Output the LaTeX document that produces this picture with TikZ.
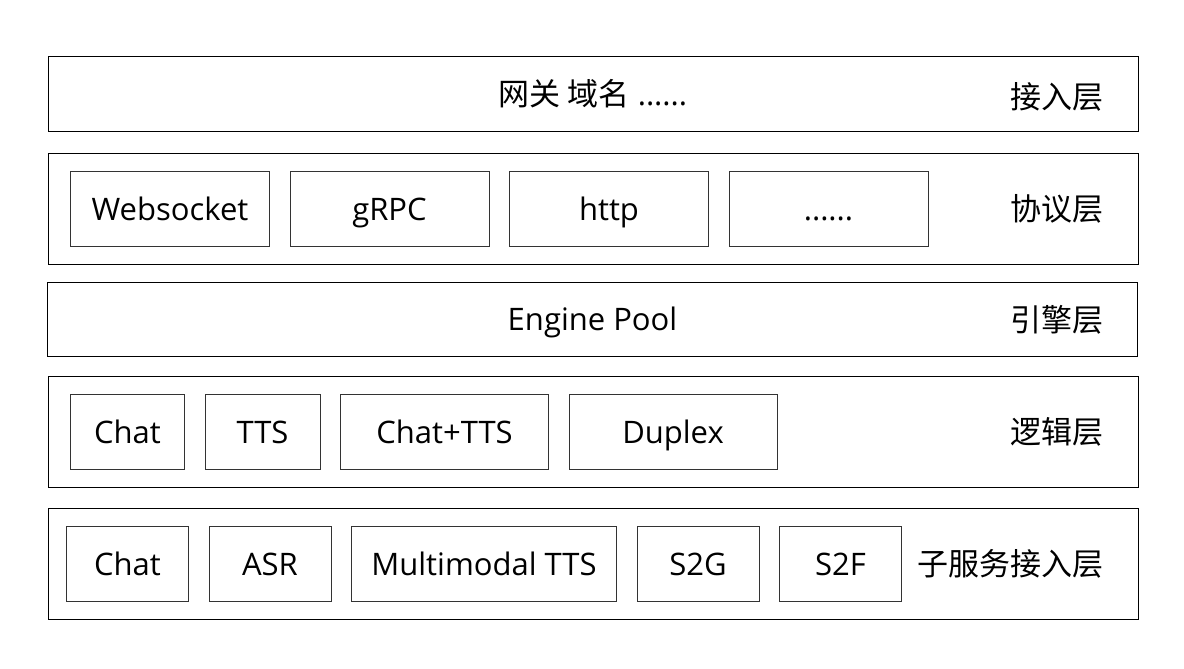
\documentclass[tikz,border=0pt]{standalone}
\usepackage{fontspec}
\setmainfont{Open Sans}
\newfontfamily\cjk{Noto Sans CJK SC}
\usetikzlibrary{positioning}

\begin{document}
\begin{tikzpicture}
		[x=0.5pt,y=-0.5pt,
		layer/.style={draw=black,line width=0.5pt,minimum width=545pt,inner sep=0pt,text height=13pt,text depth=1.5pt,font=\fontsize{15.5}{18}\selectfont},
		box/.style={draw=black!80,line width=0.5pt,minimum height=37.5pt,inner sep=0pt,text height=13pt,text depth=1.5pt,font=\fontsize{15.5}{18}\selectfont},
		tag/.style={anchor=east,inner sep=0pt,font=\cjk\fontsize{15.5}{18}\selectfont},
		node distance=9.75pt]
	\useasboundingbox (0,0) rectangle (1184,669);

	% layers
	\node[layer,minimum height=37.5pt] (access) at (593,93.5) {{\cjk 网关 域名} ......};
	\node[layer,minimum height=55.5pt] (proto) at (593.5,208.5) {};
	\node[layer,minimum height=37pt] (engine) at (592.5,319) {Engine Pool};
	\node[layer,minimum height=55.5pt] (logic) at (593,431.5) {};
	\node[layer,minimum height=55.5pt] (sub) at (593.5,563.5) {};

	\node[tag] (accesstag) at (1104,97) {接入层};
	\node[tag] (prototag) at (1104,209) {协议层};
	\node[tag] (enginetag) at (1104,320) {引擎层};
	\node[tag] (logictag) at (1104,432) {逻辑层};
	\node[tag] (subtag) at (1104,564) {子服务接入层};

	% protocols
	\node[box,minimum width=99.5pt,anchor=west] (ws) at (70,208.5) {Websocket};
	\node[box,minimum width=99.5pt] (grpc) [right=of ws] {gRPC};
	\node[box,minimum width=99.5pt] (http) [right=of grpc] {http};
	\node[box,minimum width=99.5pt] (more) [right=of http] {......};

	% logic
	\node[box,minimum width=57pt,anchor=west] (chat) at (70,431.5) {Chat};
	\node[box,minimum width=57.5pt] (tts) [right=of chat] {TTS};
	\node[box,minimum width=104pt] (chattts) [right=of tts] {Chat+TTS};
	\node[box,minimum width=104pt] (duplex) [right=of chattts] {Duplex};

	% sub services
	\node[box,minimum width=61pt,anchor=west] (subchat) at (66,563.5) {Chat};
	\node[box,minimum width=61pt] (asr) [right=of subchat] {ASR};
	\node[box,minimum width=132.5pt] (mmtts) [right=of asr] {Multimodal TTS};
	\node[box,minimum width=61pt] (stog) [right=of mmtts] {S2G};
	\node[box,minimum width=61pt] (stof) [right=of stog] {S2F};
\end{tikzpicture}
\end{document}
